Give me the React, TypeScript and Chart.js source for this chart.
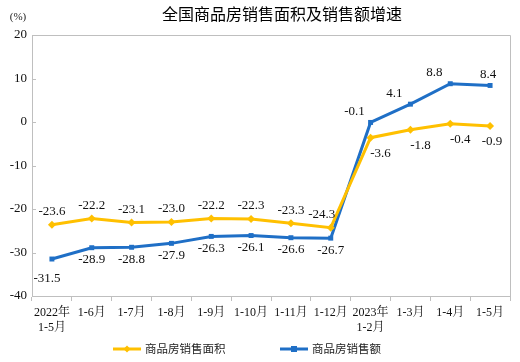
import React, { useEffect, useRef } from "react";
import { Chart, registerables } from "chart.js";

Chart.register(...registerables);

const categories: (string | string[])[] = [
  ["2022年", "1-5月"], "1-6月", "1-7月", "1-8月", "1-9月", "1-10月", "1-11月", "1-12月",
  ["2023年", "1-2月"], "1-3月", "1-4月", "1-5月",
];
const areaGrowth = [-23.6, -22.2, -23.1, -23.0, -22.2, -22.3, -23.3, -24.3, -3.6, -1.8, -0.4, -0.9];
const salesGrowth = [-31.5, -28.9, -28.8, -27.9, -26.3, -26.1, -26.6, -26.7, -0.1, 4.1, 8.8, 8.4];
const yTicks = [20, 10, 0, -10, -20, -30, -40];
const seriesNames = ["商品房销售面积", "商品房销售额"];
const title = "全国商品房销售面积及销售额增速";
const unit = "(%)";

const YELLOW = "#FFC000";
const BLUE = "#1F6FC6";
const GRID = "#BFBFBF";
const SERIF = "'Liberation Serif', 'Noto Serif CJK SC', 'Noto Sans CJK SC', serif";
const SANS = "'Noto Sans CJK SC', sans-serif";

const decorPlugin = {
  id: "decor",
  afterDatasetsDraw(chart: any) {
    const ctx = chart.ctx;
    const area = chart.chartArea;
    ctx.save();
    // frame top/right
    ctx.strokeStyle = GRID;
    ctx.lineWidth = 1;
    ctx.beginPath();
    ctx.moveTo(area.left, area.top + 0.5);
    ctx.lineTo(area.right + 0.5, area.top + 0.5);
    ctx.lineTo(area.right + 0.5, area.bottom);
    ctx.stroke();
    // inner y ticks
    const ys = chart.scales.y;
    yTicks.forEach((v) => {
      const py = Math.round(ys.getPixelForValue(v)) + 0.5;
      ctx.beginPath();
      ctx.moveTo(area.left, py);
      ctx.lineTo(area.left + 4, py);
      ctx.stroke();
    });

    // data labels
    ctx.font = `13px ${SERIF}`;
    ctx.fillStyle = "#111";
    ctx.textAlign = "center";
    ctx.textBaseline = "middle";
    const n = categories.length;
    chart.data.datasets.forEach((ds: any, di: number) => {
      const meta = chart.getDatasetMeta(di);
      meta.data.forEach((pt: any, i: number) => {
        const v = ds.data[i];
        let dx = 0;
        let dy = 0;
        const late = i >= 8;
        const last = i === n - 1;
        if (di === 0) {
          if (!late) { dy = -13; dx = i === 7 ? -9 : 0; }
          else { dy = 16; dx = last ? 2 : 10; }
        } else {
          if (!late) { dy = i === 0 ? 20 : 12; dx = i === 0 ? -5 : 0; }
          else { dy = -11; dx = last ? -2 : -16; }
        }
        ctx.fillText(v.toFixed(1), pt.x + dx, pt.y + dy);
      });
    });

    // title
    ctx.font = `16px ${SANS}`;
    ctx.fillStyle = "#000";
    ctx.textAlign = "center";
    ctx.fillText(title, 282, 14);
    ctx.font = `11px ${SERIF}`;
    ctx.fillStyle = "#222";
    ctx.fillText(unit, 18, 17);

    // legend
    const items = [
      { x: 113, color: YELLOW, style: "diamond", name: seriesNames[0] },
      { x: 280, color: BLUE, style: "square", name: seriesNames[1] },
    ];
    const ly = 349;
    items.forEach((it) => {
      ctx.strokeStyle = it.color;
      ctx.lineWidth = 3;
      ctx.beginPath();
      ctx.moveTo(it.x, ly);
      ctx.lineTo(it.x + 28, ly);
      ctx.stroke();
      ctx.fillStyle = it.color;
      const cx = it.x + 14;
      if (it.style === "diamond") {
        ctx.beginPath();
        ctx.moveTo(cx, ly - 3.5);
        ctx.lineTo(cx + 3.5, ly);
        ctx.lineTo(cx, ly + 3.5);
        ctx.lineTo(cx - 3.5, ly);
        ctx.closePath();
        ctx.fill();
      } else {
        ctx.fillRect(cx - 3, ly - 3, 6, 6);
      }
      ctx.font = `11.5px ${SANS}`;
      ctx.fillStyle = "#222";
      ctx.textAlign = "left";
      ctx.fillText(it.name, it.x + 32, ly);
    });
    ctx.restore();
  },
};

export default function App() {
  const ref = useRef<HTMLCanvasElement>(null);
  useEffect(() => {
    document.body.style.margin = "0";
    const chart = new Chart(ref.current!, {
      type: "line",
      data: {
        labels: categories,
        datasets: [
          {
            label: seriesNames[0],
            data: areaGrowth,
            borderColor: YELLOW,
            backgroundColor: YELLOW,
            borderWidth: 3,
            pointStyle: "rectRot",
            pointRadius: 4,
            pointBorderWidth: 0,
            tension: 0,
          },
          {
            label: seriesNames[1],
            data: salesGrowth,
            borderColor: BLUE,
            backgroundColor: BLUE,
            borderWidth: 3,
            pointStyle: "rect",
            pointRadius: 3.5,
            pointBorderWidth: 0,
            tension: 0,
          },
        ],
      },
      options: {
        animation: false,
        responsive: false,
        maintainAspectRatio: false,
        layout: { padding: { top: 35, right: 10, left: 0, bottom: 0 } },
        plugins: { legend: { display: false }, title: { display: false }, tooltip: { enabled: false } },
        scales: {
          x: {
            offset: true,
            grid: {
              offset: true,
              drawOnChartArea: false,
              drawTicks: true,
              tickLength: 5,
              color: GRID,
            },
            border: { display: true, color: GRID, width: 1 },
            ticks: {
              autoSkip: false,
              maxRotation: 0,
              minRotation: 0,
              padding: 4,
              color: "#111",
              font: { family: SERIF, size: 12, lineHeight: 1.25 } as any,
            },
            afterFit: (s: any) => { s.height = 66; },
          },
          y: {
            min: -40,
            max: 20,
            grid: { display: false, drawTicks: false },
            border: { display: true, color: GRID, width: 1 },
            ticks: {
              stepSize: 10,
              padding: 5,
              color: "#111",
              font: { family: SERIF, size: 13 },
            },
            afterFit: (s: any) => { s.width = 32; },
          },
        },
      },
      plugins: [decorPlugin],
    });
    return () => chart.destroy();
  }, []);
  return (
    <div style={{ position: "absolute", left: 0, top: 0, width: 520, height: 362, background: "#fff" }}>
      <canvas ref={ref} width={520} height={362} style={{ width: 520, height: 362 }} />
    </div>
  );
}
